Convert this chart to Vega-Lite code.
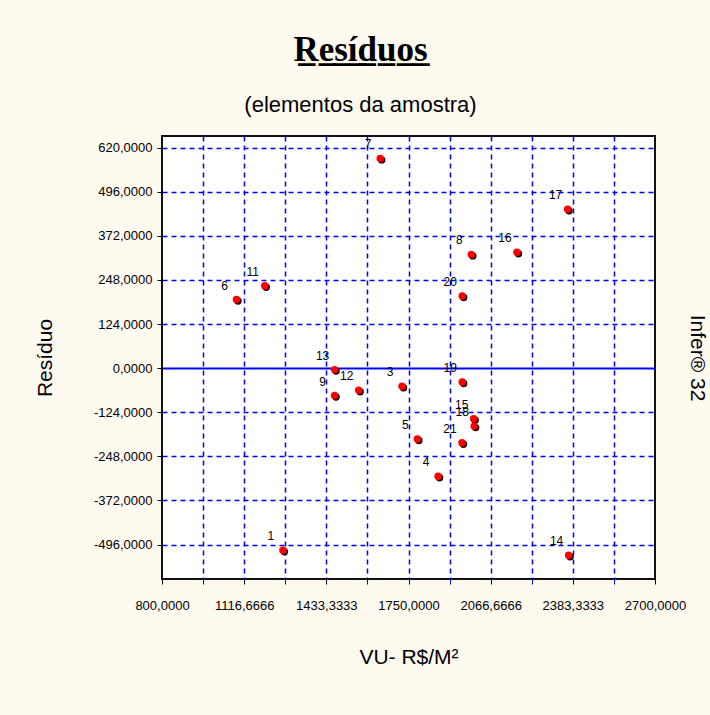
{
  "$schema": "https://vega.github.io/schema/vega-lite/v6.json",
  "width": 493,
  "height": 443,
  "autosize": {"type": "none"},
  "padding": {"left": 162, "top": 136, "right": 55, "bottom": 136},
  "background": "#fffaf0",
  "title": {
    "text": "R̲e̲s̲í̲d̲u̲o̲s̲",
    "subtitle": "(elementos da amostra)",
    "font": "Liberation Serif",
    "fontSize": 35,
    "fontWeight": "bold",
    "color": "#000000",
    "subtitleFont": "Liberation Sans",
    "subtitleFontSize": 22,
    "subtitleColor": "#000000",
    "subtitlePadding": 27,
    "offset": 20,
    "dx": -48,
    "anchor": "middle"
  },
  "config": {
    "view": {"stroke": "#111111", "strokeWidth": 2, "fill": "#ffffff"}
  },
  "data": {
    "values": [
      {"id": "1", "vu": 1266, "res": -512},
      {"id": "3", "vu": 1725, "res": -51},
      {"id": "4", "vu": 1864, "res": -304},
      {"id": "5", "vu": 1784, "res": -199},
      {"id": "6", "vu": 1087, "res": 193},
      {"id": "7", "vu": 1641, "res": 590},
      {"id": "8", "vu": 1992, "res": 320},
      {"id": "9", "vu": 1465, "res": -77},
      {"id": "11", "vu": 1196, "res": 232},
      {"id": "12", "vu": 1558, "res": -62},
      {"id": "13", "vu": 1465, "res": -4},
      {"id": "14", "vu": 2367, "res": -526},
      {"id": "15", "vu": 2001, "res": -142},
      {"id": "16", "vu": 2168, "res": 326},
      {"id": "17", "vu": 2363, "res": 447},
      {"id": "18", "vu": 2003, "res": -163},
      {"id": "19", "vu": 1957, "res": -39},
      {"id": "20", "vu": 1957, "res": 203},
      {"id": "21", "vu": 1956, "res": -210}
    ]
  },
  "layer": [
    {
      "layer": [
        {
          "mark": {"type": "point", "filled": true, "shape": "circle", "size": 55, "color": "#2a0000", "opacity": 1, "xOffset": 1.5, "yOffset": 1.5},
          "encoding": {
            "x": {
              "field": "vu",
              "type": "quantitative",
              "scale": {"domain": [800, 2700], "nice": false, "zero": false},
              "axis": {
                "values": [800, 958.3333, 1116.6666, 1274.9999, 1433.3333, 1591.6666, 1750, 1908.3333, 2066.6666, 2224.9999, 2383.3333, 2541.6666, 2700],
                "labelExpr": "indexof([800,1116.6666,1433.3333,1750,2066.6666,2383.3333,2700], datum.value) >= 0 ? replace(format(datum.value, '.4f'), '.', ',') : ''",
                "labelOverlap": false,
                "labelFlush": false,
                "grid": true,
                "gridColor": "#0000ff",
                "gridWidth": 1.5,
                "gridDash": [5, 4],
                "gridOpacity": {"condition": {"test": "datum.value <= 800 || datum.value >= 2700", "value": 0}, "value": 1},
                "domain": false,
                "tickSize": 5,
                "tickColor": {"condition": {"test": "indexof([800,1116.6666,1433.3333,1750,2066.6666,2383.3333,2700], datum.value) >= 0", "value": "#000000"}, "value": "#0000ff"},
                "labelPadding": 15,
                "labelFont": "Liberation Sans",
                "labelFontSize": 13,
                "labelColor": "#000000",
                "titleFont": "Liberation Sans",
                "titleFontSize": 21,
                "titleFontWeight": "normal",
                "titleColor": "#000000",
                "titlePadding": 34
              },
              "title": "VU- R$/M²"
            },
            "y": {
              "field": "res",
              "type": "quantitative",
              "scale": {"domain": [-593, 653], "nice": false, "zero": false},
              "axis": {
                "values": [-496, -372, -248, -124, 0, 124, 248, 372, 496, 620],
                "labelExpr": "replace(replace(format(datum.value, '.4f'), '.', ','), '−', '-')",
                "grid": true,
                "gridColor": "#0000ff",
                "gridWidth": {"condition": {"test": "datum.value === 0", "value": 2}, "value": 1.5},
                "gridDash": {"condition": {"test": "datum.value === 0", "value": []}, "value": [5, 4]},
                "domain": false,
                "tickColor": "#000000",
                "tickSize": 5,
                "labelPadding": 5,
                "labelFont": "Liberation Sans",
                "labelFontSize": 13,
                "labelColor": "#000000",
                "titleFont": "Liberation Sans",
                "titleFontSize": 21,
                "titleFontWeight": "normal",
                "titleColor": "#000000",
                "titlePadding": 38
              },
              "title": "Resíduo"
            }
          }
        },
        {
          "mark": {"type": "point", "filled": true, "shape": "circle", "size": 55, "color": "#ff0000", "opacity": 1},
          "encoding": {
            "x": {"field": "vu", "type": "quantitative"},
            "y": {"field": "res", "type": "quantitative"}
          }
        }
      ]
    },
    {
      "mark": {"type": "text", "dx": -12, "dy": -14, "fontSize": 12, "font": "Liberation Sans", "color": "#000000"},
      "encoding": {
        "x": {"field": "vu", "type": "quantitative"},
        "y": {
          "field": "res",
          "type": "quantitative",
          "scale": {"domain": [-593, 653], "nice": false, "zero": false},
          "axis": {
            "orient": "right",
            "title": "Infer® 32",
            "labels": false,
            "ticks": false,
            "domain": false,
            "grid": false,
            "titleAngle": 90,
            "titleFont": "Liberation Sans",
            "titleFontSize": 21,
            "titleFontWeight": "normal",
            "titleColor": "#000000",
            "titlePadding": 31
          }
        },
        "text": {"field": "id"}
      }
    }
  ],
  "resolve": {"scale": {"y": "independent"}}
}
